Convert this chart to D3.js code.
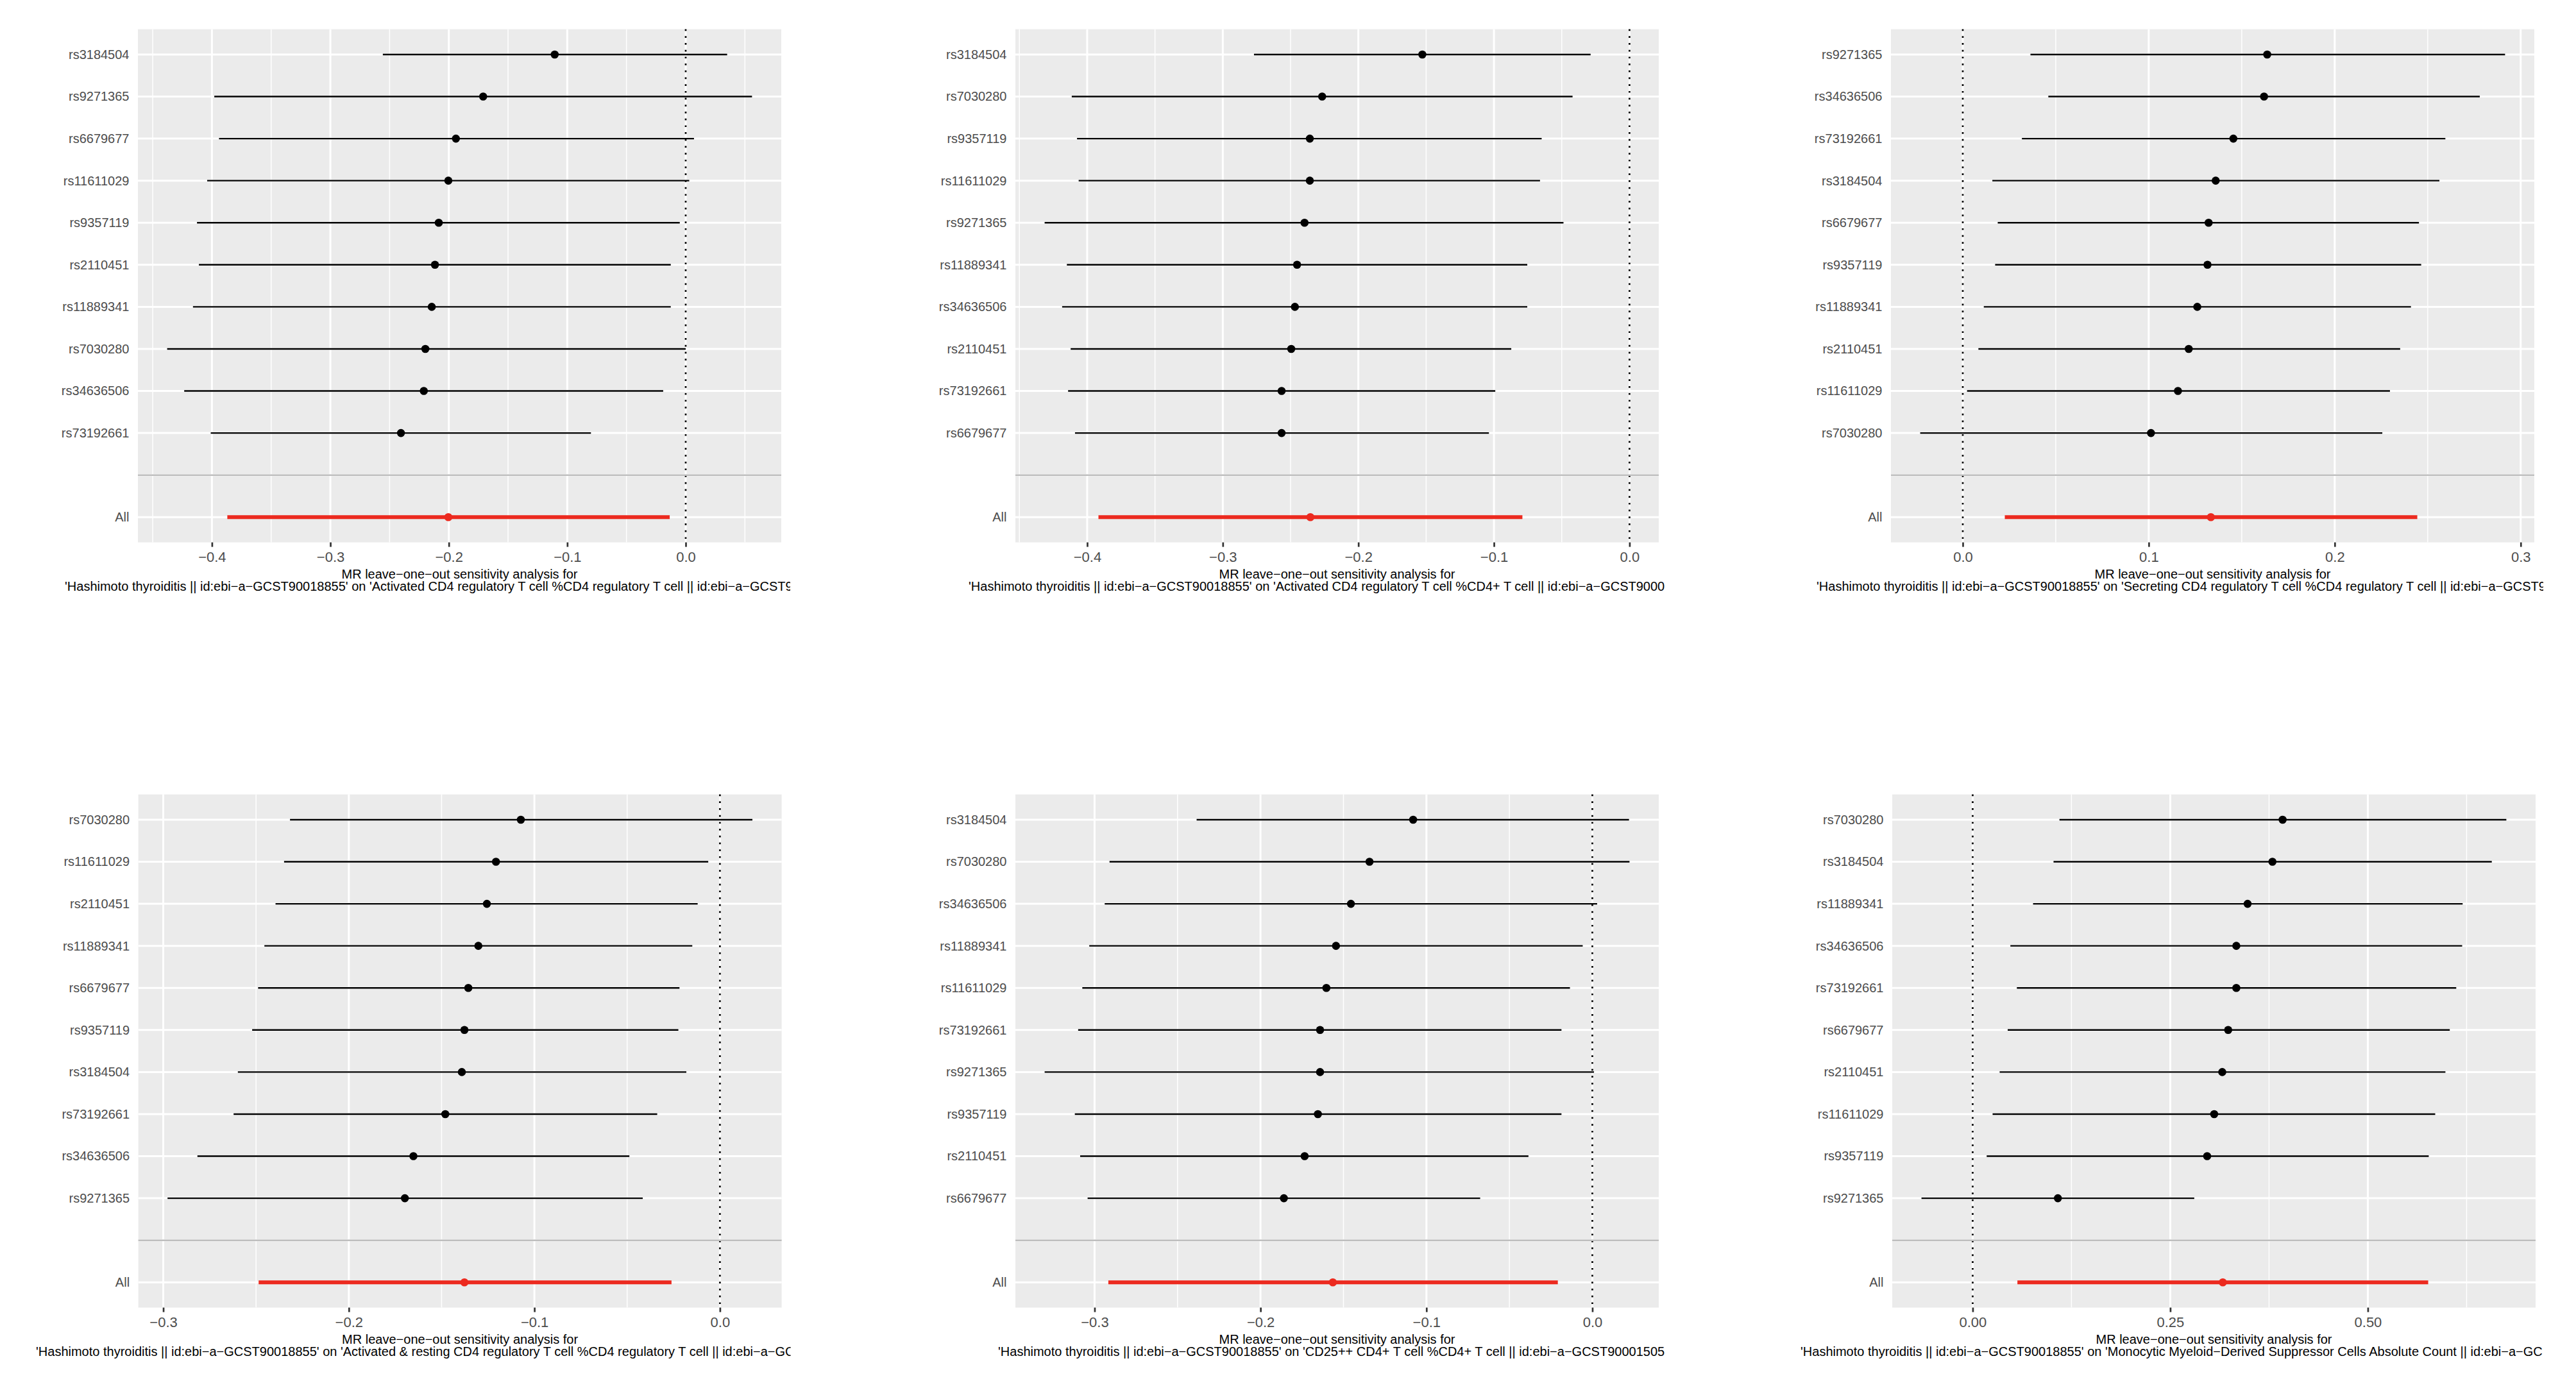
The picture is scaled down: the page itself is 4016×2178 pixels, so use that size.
<!DOCTYPE html>
<html>
<head>
<meta charset="utf-8">
<script src="https://cdn.jsdelivr.net/npm/d3@7/dist/d3.min.js"></script>
<style>
  html, body { margin: 0; padding: 0; background: #ffffff; }
  svg { display: block; }
  text { font-family: "Liberation Sans", Arial, Helvetica, sans-serif; }
</style>
</head>
<body>
<svg id="chart" width="4016" height="2178"></svg>
<script>
// ---------------- DATA (rows listed top to bottom) ----------------
const titleLine1 = "MR leave\u2212one\u2212out sensitivity analysis for";

// Panel 1
const p1Snps = ["rs3184504","rs9271365","rs6679677","rs11611029","rs9357119","rs2110451","rs11889341","rs7030280","rs34636506","rs73192661"];
const p1B    = [-0.1106,-0.171,-0.194,-0.2004,-0.2085,-0.2117,-0.2144,-0.2198,-0.2211,-0.2404];
const p1Lo   = [-0.2557,-0.398,-0.394,-0.404,-0.4126,-0.411,-0.416,-0.4378,-0.4234,-0.401];
const p1Hi   = [0.035,0.056,0.007,0.003,-0.005,-0.0126,-0.0126,0.0,-0.019,-0.080];
const p1All  = [-0.2004,-0.387,-0.0135];   // b, lo, hi
const p1Ticks = [-0.4,-0.3,-0.2,-0.1,0.0];
const p1TickLabels = ["\u22120.4","\u22120.3","\u22120.2","\u22120.1","0.0"];
const p1Title = "'Hashimoto thyroiditis || id:ebi\u2212a\u2212GCST90018855' on 'Activated CD4 regulatory T cell %CD4 regulatory T cell || id:ebi\u2212a\u2212GCST9";

// Panel 2
const p2Snps = ["rs3184504","rs7030280","rs9357119","rs11611029","rs9271365","rs11889341","rs34636506","rs2110451","rs73192661","rs6679677"];
const p2B    = [-0.1528,-0.2267,-0.2358,-0.2358,-0.2397,-0.2452,-0.2468,-0.2495,-0.2566,-0.2566];
const p2Lo   = [-0.277,-0.4114,-0.4075,-0.4063,-0.4314,-0.415,-0.4185,-0.4122,-0.4141,-0.409];
const p2Hi   = [-0.0287,-0.042,-0.0648,-0.066,-0.0487,-0.0754,-0.0754,-0.0872,-0.099,-0.1037];
const p2All  = [-0.2354,-0.3917,-0.079];
const p2Ticks = [-0.4,-0.3,-0.2,-0.1,0.0];
const p2TickLabels = ["\u22120.4","\u22120.3","\u22120.2","\u22120.1","0.0"];
const p2Title = "'Hashimoto thyroiditis || id:ebi\u2212a\u2212GCST90018855' on 'Activated CD4 regulatory T cell %CD4+ T cell || id:ebi\u2212a\u2212GCST9000";

// Panel 3
const p3Snps = ["rs9271365","rs34636506","rs73192661","rs3184504","rs6679677","rs9357119","rs11889341","rs2110451","rs11611029","rs7030280"];
const p3B    = [0.1637,0.162,0.1455,0.136,0.1322,0.1316,0.1261,0.1215,0.1157,0.1012];
const p3Lo   = [0.0364,0.046,0.0318,0.0159,0.0188,0.0174,0.0113,0.0084,0.0023,-0.0229];
const p3Hi   = [0.2916,0.278,0.2595,0.2563,0.2453,0.2465,0.241,0.2352,0.2297,0.2256];
const p3All  = [0.1334,0.0226,0.2444];
const p3Ticks = [0.0,0.1,0.2,0.3];
const p3TickLabels = ["0.0","0.1","0.2","0.3"];
const p3Title = "'Hashimoto thyroiditis || id:ebi\u2212a\u2212GCST90018855' on 'Secreting CD4 regulatory T cell %CD4 regulatory T cell || id:ebi\u2212a\u2212GCST9";

// Panel 4
const p4Snps = ["rs7030280","rs11611029","rs2110451","rs11889341","rs6679677","rs9357119","rs3184504","rs73192661","rs34636506","rs9271365"];
const p4B    = [-0.1073,-0.1207,-0.1256,-0.1302,-0.1356,-0.1377,-0.1391,-0.148,-0.1652,-0.1698];
const p4Lo   = [-0.2317,-0.2349,-0.2395,-0.2455,-0.2489,-0.2521,-0.2598,-0.2621,-0.2816,-0.2977];
const p4Hi   = [0.0175,-0.0063,-0.012,-0.0149,-0.0218,-0.0224,-0.0181,-0.0338,-0.0488,-0.0416];
const p4All  = [-0.1377,-0.2486,-0.0261];
const p4Ticks = [-0.3,-0.2,-0.1,0.0];
const p4TickLabels = ["\u22120.3","\u22120.2","\u22120.1","0.0"];
const p4Title = "'Hashimoto thyroiditis || id:ebi\u2212a\u2212GCST90018855' on 'Activated & resting CD4 regulatory T cell %CD4 regulatory T cell || id:ebi\u2212a\u2212GC";

// Panel 5
const p5Snps = ["rs3184504","rs7030280","rs34636506","rs11889341","rs11611029","rs73192661","rs9271365","rs9357119","rs2110451","rs6679677"];
const p5B    = [-0.108,-0.1343,-0.1455,-0.1545,-0.1603,-0.1641,-0.1641,-0.1654,-0.1734,-0.1859];
const p5Lo   = [-0.2385,-0.291,-0.2939,-0.3032,-0.3074,-0.3099,-0.3301,-0.3119,-0.3087,-0.3042];
const p5Hi   = [0.0221,0.0224,0.0029,-0.0058,-0.0135,-0.0186,0.001,-0.0186,-0.0385,-0.0676];
const p5All  = [-0.1564,-0.2917,-0.0208];
const p5Ticks = [-0.3,-0.2,-0.1,0.0];
const p5TickLabels = ["\u22120.3","\u22120.2","\u22120.1","0.0"];
const p5Title = "'Hashimoto thyroiditis || id:ebi\u2212a\u2212GCST90018855' on 'CD25++ CD4+ T cell %CD4+ T cell || id:ebi\u2212a\u2212GCST90001505";

// Panel 6
const p6Snps = ["rs7030280","rs3184504","rs11889341","rs34636506","rs73192661","rs6679677","rs2110451","rs11611029","rs9357119","rs9271365"];
const p6B    = [0.3922,0.3793,0.3479,0.3336,0.3336,0.3233,0.3158,0.3056,0.2967,0.1078];
const p6Lo   = [0.1098,0.1023,0.0764,0.0477,0.0559,0.0443,0.0341,0.0252,0.0177,-0.0648];
const p6Hi   = [0.6753,0.6569,0.62,0.6194,0.6119,0.6037,0.5982,0.5853,0.5771,0.2804];
const p6All  = [0.3165,0.0566,0.5764];
const p6Ticks = [0.0,0.25,0.5];
const p6TickLabels = ["0.00","0.25","0.50"];
const p6Title = "'Hashimoto thyroiditis || id:ebi\u2212a\u2212GCST90018855' on 'Monocytic Myeloid\u2212Derived Suppressor Cells Absolute Count || id:ebi\u2212a\u2212GC";

// ---------------- LAYOUT (positions / sizes / styles) ----------------
const PW = 1003, PH = 800;
const RED = "#EC2A1F";
const layout = [
  {left: 215,  top: 45.6,   t2x: 101},
  {left: 1583, top: 45.6,   t2x: 1510},
  {left: 2948, top: 45.6,   t2x: 2832},
  {left: 215.6,top: 1238.6, t2x: 56},
  {left: 1583, top: 1238.6, t2x: 1556},
  {left: 2950, top: 1238.6, t2x: 2807}
];
const panels = [
  {snps:p1Snps,b:p1B,lo:p1Lo,hi:p1Hi,all:p1All,ticks:p1Ticks,tickLabels:p1TickLabels,title:p1Title},
  {snps:p2Snps,b:p2B,lo:p2Lo,hi:p2Hi,all:p2All,ticks:p2Ticks,tickLabels:p2TickLabels,title:p2Title},
  {snps:p3Snps,b:p3B,lo:p3Lo,hi:p3Hi,all:p3All,ticks:p3Ticks,tickLabels:p3TickLabels,title:p3Title},
  {snps:p4Snps,b:p4B,lo:p4Lo,hi:p4Hi,all:p4All,ticks:p4Ticks,tickLabels:p4TickLabels,title:p4Title},
  {snps:p5Snps,b:p5B,lo:p5Lo,hi:p5Hi,all:p5All,ticks:p5Ticks,tickLabels:p5TickLabels,title:p5Title},
  {snps:p6Snps,b:p6B,lo:p6Lo,hi:p6Hi,all:p6All,ticks:p6Ticks,tickLabels:p6TickLabels,title:p6Title}
];

const svg = d3.select("#chart");
svg.append("rect").attr("width",4016).attr("height",2178).attr("fill","#ffffff");

panels.forEach((p, i) => {
  const L = layout[i];
  const g = svg.append("g").attr("transform", `translate(${L.left},${L.top})`);

  // rows: SNPs, blank separator, All
  const levels = p.snps.concat(["", "All"]);
  const rows = p.snps.map((s, k) => ({snp: s, b: p.b[k], lo: p.lo[k], hi: p.hi[k], tot: false}));
  rows.push({snp: "All", b: p.all[0], lo: p.all[1], hi: p.all[2], tot: true});

  // x domain like ggplot: data range incl. 0 (vline), expanded 5%
  const vals = rows.flatMap(r => [r.b, r.lo, r.hi]).concat([0]);
  const mn = d3.min(vals), mx = d3.max(vals), ex = (mx - mn) * 0.05;
  const x = d3.scaleLinear().domain([mn - ex, mx + ex]).range([0, PW]);
  const y = d3.scalePoint().domain(levels).range([0, PH]).padding(0.6);

  // panel background
  g.append("rect").attr("width", PW).attr("height", PH).attr("fill", "#EBEBEB");

  // minor gridlines
  const step = p.ticks[1] - p.ticks[0];
  const minors = [];
  for (let v = p.ticks[0] - step / 2; v <= x.domain()[1] + 1e-9; v += step) {
    if (v >= x.domain()[0]) minors.push(v);
  }
  g.selectAll(".minor").data(minors).enter().append("line")
    .attr("x1", d => x(d)).attr("x2", d => x(d)).attr("y1", 0).attr("y2", PH)
    .attr("stroke", "#ffffff").attr("stroke-width", 1.5);

  // major gridlines
  g.selectAll(".vmaj").data(p.ticks).enter().append("line")
    .attr("x1", d => x(d)).attr("x2", d => x(d)).attr("y1", 0).attr("y2", PH)
    .attr("stroke", "#ffffff").attr("stroke-width", 3);
  g.selectAll(".hmaj").data(levels).enter().append("line")
    .attr("x1", 0).attr("x2", PW).attr("y1", d => y(d)).attr("y2", d => y(d))
    .attr("stroke", "#ffffff").attr("stroke-width", 3);

  // dotted zero line
  g.append("line").attr("x1", x(0)).attr("x2", x(0)).attr("y1", 0).attr("y2", PH)
    .attr("stroke", "#000000").attr("stroke-width", 2.7).attr("stroke-dasharray", "2.7,8");

  // error bars
  g.selectAll(".eb").data(rows).enter().append("line")
    .attr("x1", d => x(d.lo)).attr("x2", d => x(d.hi))
    .attr("y1", d => y(d.snp)).attr("y2", d => y(d.snp))
    .attr("stroke", d => d.tot ? RED : "#000000")
    .attr("stroke-width", d => d.tot ? 6 : 2.4);

  // points
  g.selectAll(".pt").data(rows).enter().append("circle")
    .attr("cx", d => x(d.b)).attr("cy", d => y(d.snp)).attr("r", 6.3)
    .attr("fill", d => d.tot ? RED : "#000000");

  // grey separator line at the blank level
  g.append("line").attr("x1", 0).attr("x2", PW).attr("y1", y("")).attr("y2", y(""))
    .attr("stroke", "#BEBEBE").attr("stroke-width", 2.6);

  // x axis
  const xa = g.append("g").attr("transform", `translate(0,${PH})`)
    .call(d3.axisBottom(x).tickValues(p.ticks).tickFormat((d, k) => p.tickLabels[k])
      .tickSize(7).tickPadding(7.4));
  xa.select(".domain").remove();
  xa.selectAll(".tick line").attr("stroke", "#333333").attr("stroke-width", 2.7);
  xa.selectAll(".tick text").attr("fill", "#4D4D4D").style("font-size", "22px")
    .style("font-family", '"Liberation Sans", Arial, Helvetica, sans-serif');

  // y axis (labels only)
  const ya = g.append("g").call(d3.axisLeft(y).tickSize(0).tickPadding(13.5));
  ya.select(".domain").remove();
  ya.selectAll(".tick text").attr("fill", "#4D4D4D").style("font-size", "20px")
    .style("font-family", '"Liberation Sans", Arial, Helvetica, sans-serif');

  // axis title (two lines); second line clipped at the right edge of the plot image
  const clipId = "clip" + i;
  svg.append("clipPath").attr("id", clipId).append("rect")
    .attr("x", L.left - 220).attr("y", L.top + PH).attr("width", PW + 220 + 14).attr("height", 120);
  svg.append("text").attr("x", L.left + PW / 2).attr("y", L.top + PH + 56)
    .attr("text-anchor", "middle").attr("fill", "#000000").style("font-size", "20px")
    .text(titleLine1);
  svg.append("text").attr("x", L.t2x).attr("y", L.top + PH + 75.5)
    .attr("text-anchor", "start").attr("fill", "#000000").style("font-size", "20px")
    .attr("clip-path", `url(#${clipId})`)
    .text(p.title);
});
</script>
</body>
</html>
